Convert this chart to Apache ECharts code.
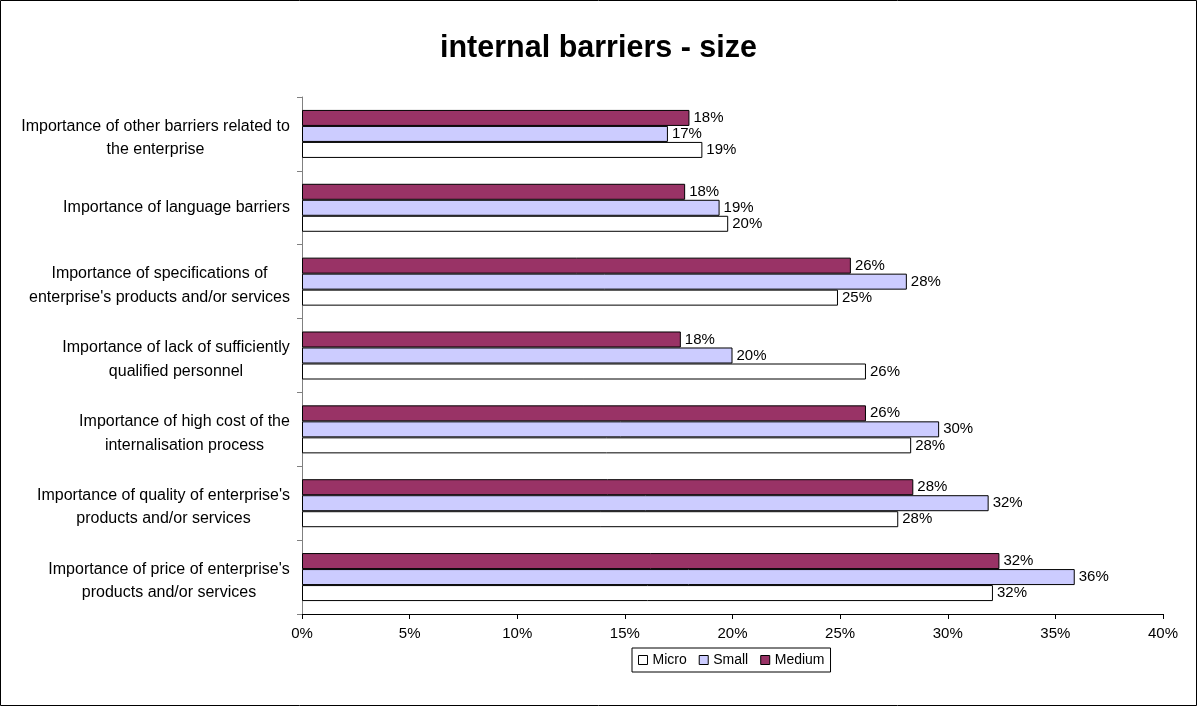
<!DOCTYPE html>
<html>
<head>
<meta charset="utf-8">
<script src="https://cdn.jsdelivr.net/npm/echarts@6/dist/echarts.min.js"></script>
<style>
html,body{margin:0;padding:0;background:#fff;}
#chart{width:1197px;height:706px;}
</style>
</head>
<body>
<div id="chart"></div>
<script>
// Categories listed bottom-to-top (ECharts category y axis starts at the bottom)
const categories = [
  "Importance of price of enterprise's\nproducts and/or services",
  "Importance of quality of enterprise's\nproducts and/or services",
  "Importance of high cost of the\ninternalisation process",
  "Importance of lack of sufficiently\nqualified personnel",
  "Importance of specifications of\nenterprise's products and/or services",
  "Importance of language barriers",
  "Importance of other barriers related to\nthe enterprise"
];
const microValues  = [32.1, 27.7, 28.3, 26.2, 24.9, 19.8, 18.6];
const smallValues  = [35.9, 31.9, 29.6, 20.0, 28.1, 19.4, 17.0];
const mediumValues = [32.4, 28.4, 26.2, 17.6, 25.5, 17.8, 18.0];
const seriesNames = ["Micro", "Small", "Medium"];
const xTicks = [0, 5, 10, 15, 20, 25, 30, 35, 40];
const titleText = "internal barriers - size";

const FONT = "'Liberation Sans', Arial, sans-serif";
const LABEL_SIZE = 15;
const CAT_SIZE = 16;

// measure multi-line label widths so lines are centred within a right-aligned block
const cv = document.createElement('canvas').getContext('2d');
cv.font = CAT_SIZE + "px 'Liberation Sans', Arial";
const rich = { s: { fontSize: 1, lineHeight: 8 } };
categories.forEach((c, i) => {
  const w = Math.max(...c.split('\n').map(l => cv.measureText(l).width));
  rich['c' + i] = { width: Math.ceil(w), align: 'center', fontSize: CAT_SIZE, fontFamily: FONT, color: '#000', lineHeight: 23.5 };
});

const chart = echarts.init(document.getElementById('chart'), null, { renderer: 'canvas' });

const labelCfg = {
  show: true, position: 'right', distance: 4,
  color: '#000', fontSize: LABEL_SIZE, fontFamily: FONT,
  formatter: p => Math.round(p.value) + '%'
};

function mk(name, data, color) {
  return {
    name, type: 'bar', data,
    barGap: '0%', barCategoryGap: '35%',
    itemStyle: { color, borderColor: '#000', borderWidth: 1 },
    label: labelCfg,
    emphasis: { disabled: true },
    animation: false
  };
}

chart.setOption({
  animation: false,
  backgroundColor: '#fff',
  title: {
    text: titleText, left: 'center', top: 33, padding: 0,
    textStyle: { fontFamily: FONT, fontSize: 30.5, fontWeight: 'bold', color: '#000' }
  },
  graphic: [{
    type: 'rect', shape: { x: 0.5, y: 0.5, width: 1196, height: 705 },
    style: { fill: 'none', stroke: '#000', lineWidth: 1 }, silent: true
  }],
  legend: {
    data: seriesNames,
    left: 632, top: 648,
    padding: [5, 6], itemGap: 12, itemWidth: 9, itemHeight: 9,
    borderColor: '#000', borderWidth: 1,
    icon: 'rect',
    itemStyle: { borderColor: '#000', borderWidth: 1 },
    textStyle: { fontFamily: FONT, fontSize: 14, color: '#000' }
  },
  grid: { left: 302, right: 34, top: 97, bottom: 92, containLabel: false },
  xAxis: {
    type: 'value', min: xTicks[0], max: xTicks[xTicks.length - 1], interval: 5,
    axisLine: { show: true, lineStyle: { color: '#000', width: 1 } },
    axisTick: { show: true, length: 5, lineStyle: { color: '#000' } },
    splitLine: { show: false },
    axisLabel: { margin: 12, color: '#000', fontSize: LABEL_SIZE, fontFamily: FONT, formatter: v => v + '%' }
  },
  yAxis: {
    type: 'category', data: categories,
    axisLine: { show: true, lineStyle: { color: '#808080', width: 1 } },
    axisTick: { show: true, length: 5, lineStyle: { color: '#808080' } },
    axisLabel: {
      margin: 12, align: 'right', color: '#000', fontSize: CAT_SIZE, fontFamily: FONT,
      rich,
      formatter: (v, i) => {
        const lines = v.split('\n').map(l => '{c' + i + '|' + l + '}');
        return (lines.length > 1 ? '{s| }\n' : '') + lines.join('\n');
      }
    }
  },
  series: [
    mk(seriesNames[2], mediumValues, '#993366'),
    mk(seriesNames[1], smallValues, '#CCCCFF'),
    mk(seriesNames[0], microValues, '#FFFFFF')
  ]
});
</script>
</body>
</html>
